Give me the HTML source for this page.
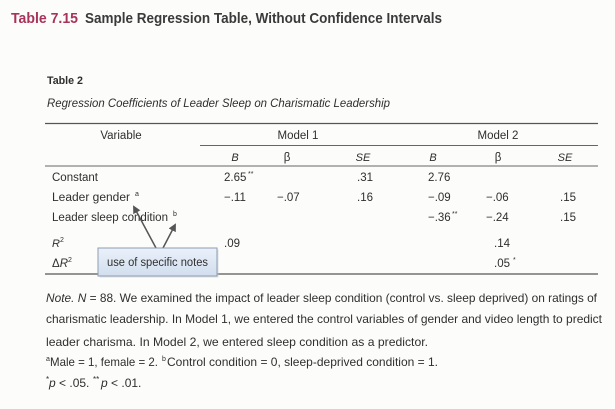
<!DOCTYPE html>
<html>
<head>
<meta charset="utf-8">
<style>
  html,body{margin:0;padding:0;background:#fcfcfa;}
  svg{display:block;}
  text{font-family:"Liberation Sans", Arial, sans-serif; fill:#2f2f2f;}
</style>
</head>
<body>
<svg width="615" height="409" viewBox="0 0 615 409" xmlns="http://www.w3.org/2000/svg">
  <defs>
    <linearGradient id="bx" x1="0" y1="0" x2="0" y2="1">
      <stop offset="0" stop-color="#eaf1fa"/>
      <stop offset="1" stop-color="#d2deee"/>
    </linearGradient>
    <marker id="ah" markerWidth="8" markerHeight="8" refX="6" refY="4" orient="auto" markerUnits="userSpaceOnUse">
      <path d="M0,0 L8,4 L0,8 Z" fill="#555"/>
    </marker>
  </defs>
  <rect x="0" y="0" width="615" height="409" fill="#fcfcfa"/>

  <!-- Title -->
  <text x="11" y="23" font-size="15" font-weight="bold" style="fill:#a8345c" textLength="67" lengthAdjust="spacingAndGlyphs">Table 7.15</text>
  <text x="85" y="23" font-size="15" font-weight="bold" style="fill:#3a3a3a" textLength="357" lengthAdjust="spacingAndGlyphs">Sample Regression Table, Without Confidence Intervals</text>

  <!-- Table heading -->
  <text x="47" y="84" font-size="11" font-weight="bold" textLength="36" lengthAdjust="spacingAndGlyphs">Table 2</text>
  <text x="47" y="107" font-size="12" font-style="italic" textLength="343" lengthAdjust="spacingAndGlyphs">Regression Coefficients of Leader Sleep on Charismatic Leadership</text>

  <!-- Rules -->
  <line x1="45" y1="123.5" x2="598" y2="123.5" stroke="#555" stroke-width="1.2"/>
  <line x1="200" y1="145.5" x2="598" y2="145.5" stroke="#666" stroke-width="1"/>
  <line x1="45" y1="166" x2="598" y2="166" stroke="#666" stroke-width="1"/>
  <line x1="45" y1="274" x2="598" y2="274" stroke="#555" stroke-width="1.2"/>

  <!-- Header row -->
  <text x="121" y="139" font-size="11.5" text-anchor="middle">Variable</text>
  <text x="298" y="139" font-size="11.5" text-anchor="middle">Model 1</text>
  <text x="498" y="139" font-size="11.5" text-anchor="middle">Model 2</text>

  <text x="235" y="161" font-size="11" font-style="italic" text-anchor="middle">B</text>
  <text x="287" y="161" font-size="11.5" text-anchor="middle">β</text>
  <text x="363" y="161" font-size="11" font-style="italic" text-anchor="middle">SE</text>
  <text x="433" y="161" font-size="11" font-style="italic" text-anchor="middle">B</text>
  <text x="498" y="161" font-size="11.5" text-anchor="middle">β</text>
  <text x="565" y="161" font-size="11" font-style="italic" text-anchor="middle">SE</text>

  <!-- Constant -->
  <text x="52" y="181" font-size="11.5" textLength="46" lengthAdjust="spacingAndGlyphs">Constant</text>
  <text x="224" y="181" font-size="11.5">2.65</text>
  <text x="248" y="176" font-size="7">**</text>
  <text x="357" y="181" font-size="11.5">.31</text>
  <text x="428" y="181" font-size="11.5">2.76</text>

  <!-- Leader gender -->
  <text x="52" y="201" font-size="11.5" textLength="78" lengthAdjust="spacingAndGlyphs">Leader gender</text>
  <text x="135" y="196" font-size="7">a</text>
  <text x="224" y="201" font-size="11.5">−.11</text>
  <text x="277" y="201" font-size="11.5">−.07</text>
  <text x="357" y="201" font-size="11.5">.16</text>
  <text x="428" y="201" font-size="11.5">−.09</text>
  <text x="486" y="201" font-size="11.5">−.06</text>
  <text x="560" y="201" font-size="11.5">.15</text>

  <!-- Leader sleep condition -->
  <text x="52" y="221" font-size="11.5" textLength="116" lengthAdjust="spacingAndGlyphs">Leader sleep condition</text>
  <text x="173" y="216" font-size="7">b</text>
  <text x="428" y="221" font-size="11.5">−.36</text>
  <text x="452" y="216" font-size="7">**</text>
  <text x="486" y="221" font-size="11.5">−.24</text>
  <text x="560" y="221" font-size="11.5">.15</text>

  <!-- R2 -->
  <text x="52" y="247" font-size="11" font-style="italic">R</text>
  <text x="60" y="242" font-size="7">2</text>
  <text x="224" y="247" font-size="11.5">.09</text>
  <text x="494" y="247" font-size="11.5">.14</text>

  <!-- Delta R2 -->
  <text x="52" y="267" font-size="11.5">Δ<tspan font-style="italic">R</tspan></text>
  <text x="68" y="262" font-size="7">2</text>
  <text x="494" y="267" font-size="11.5">.05</text>
  <text x="513" y="262" font-size="7">*</text>

  <!-- Callout -->
  <line x1="156" y1="248" x2="134" y2="207" stroke="#555" stroke-width="1.5" marker-end="url(#ah)"/>
  <line x1="163" y1="248" x2="175" y2="225" stroke="#555" stroke-width="1.5" marker-end="url(#ah)"/>
  <rect x="99.5" y="249.5" width="119" height="28" fill="#c9cfd6" opacity="0.6"/>
  <rect x="98" y="248" width="119" height="28" fill="url(#bx)" stroke="#8d9db3" stroke-width="1"/>
  <text x="107" y="266" font-size="11.5" textLength="101" lengthAdjust="spacingAndGlyphs">use of specific notes</text>

  <!-- Notes -->
  <text x="46" y="302" font-size="12" textLength="551" lengthAdjust="spacingAndGlyphs"><tspan font-style="italic">Note.</tspan> <tspan font-style="italic">N</tspan> = 88. We examined the impact of leader sleep condition (control vs. sleep deprived) on ratings of</text>
  <text x="46" y="323" font-size="12" textLength="556" lengthAdjust="spacingAndGlyphs">charismatic leadership. In Model 1, we entered the control variables of gender and video length to predict</text>
  <text x="46" y="346" font-size="12" textLength="382" lengthAdjust="spacingAndGlyphs">leader charisma. In Model 2, we entered sleep condition as a predictor.</text>

  <text x="46" y="361" font-size="7">a</text>
  <text x="50" y="366" font-size="12" textLength="108" lengthAdjust="spacingAndGlyphs">Male = 1, female = 2.</text>
  <text x="162" y="361" font-size="7">b</text>
  <text x="167" y="366" font-size="12" textLength="271" lengthAdjust="spacingAndGlyphs">Control condition = 0, sleep-deprived condition = 1.</text>

  <text x="46" y="382" font-size="8">*</text>
  <text x="49" y="387" font-size="12"><tspan font-style="italic">p</tspan> &lt; .05.</text>
  <text x="93" y="382" font-size="8">**</text>
  <text x="101" y="387" font-size="12"><tspan font-style="italic">p</tspan> &lt; .01.</text>
</svg>
</body>
</html>
